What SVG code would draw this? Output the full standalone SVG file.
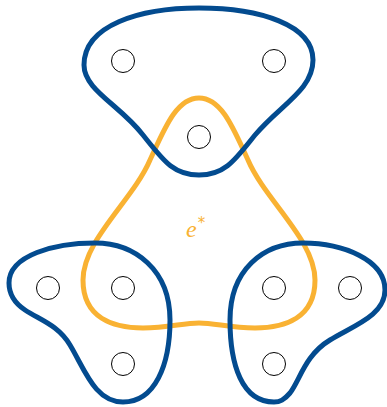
<svg xmlns="http://www.w3.org/2000/svg" width="387" height="407" viewBox="0 0 387 407">
<style>
.edge{fill:none;stroke:#034B8F;stroke-width:5;stroke-linejoin:round}
.star{fill:none;stroke:#F9B233;stroke-width:5;stroke-linejoin:round}
.v{fill:#fff;stroke:#000;stroke-width:1}
.lbl{font-family:"Liberation Serif","DejaVu Serif",serif;font-style:italic;font-size:24px;fill:#F9B233}
</style>
<rect width="387" height="407" fill="#fff"/>
<g id="edge-estar">
<path class="star" d="M 199 98 C 222 98 234 130 248 160 C 265 200 315 240 315 280 C 315 318 285 328 255 328 C 230 328 215 323 199 323 C 183 323 168 328 143 328 C 113 328 83 318 83 280 C 83 240 133 200 150 160 C 164 130 176 98 199 98 Z"/>
<text class="lbl" x="186" y="237">e<tspan font-family="DejaVu Sans, sans-serif" font-style="normal" font-size="15" dx="1" dy="-9">*</tspan></text>
</g>
<g id="edge-top">
<path class="edge" d="M 199 8 C 260 8 313 25 313 60 C 313 90 280 105 255 135 C 235 160 225 175 199 175 C 173 175 163 160 143 135 C 120 105 84 90 84 65 C 84 25 140 8 199 8 Z"/>
</g>
<g id="edge-left">
<path class="edge" d="M 95 243 C 135 243 170 270 170 320 C 170 365 155 402 123 402 C 95 402 85 370 70 345 C 58 325 40 320 25 310 C 13 302 9 293 9 283 C 9 255 55 243 95 243 Z"/>
</g>
<g id="edge-right">
<path class="edge" d="M 303 243 C 343 243 385 260 385 290 C 385 315 355 325 330 340 C 305 355 300 380 290 393 C 284 400 280 402 274 402 C 242 402 230 365 230 320 C 230 270 263 243 303 243 Z"/>
</g>
<g id="v1"><circle class="v" cx="123" cy="61" r="11.5"/></g>
<g id="v2"><circle class="v" cx="274" cy="61" r="11.5"/></g>
<g id="v3"><circle class="v" cx="199" cy="137" r="11.5"/></g>
<g id="v4"><circle class="v" cx="48" cy="288" r="11.5"/></g>
<g id="v5"><circle class="v" cx="123" cy="288" r="11.5"/></g>
<g id="v6"><circle class="v" cx="123" cy="364" r="11.5"/></g>
<g id="v7"><circle class="v" cx="274" cy="288" r="11.5"/></g>
<g id="v8"><circle class="v" cx="350" cy="288" r="11.5"/></g>
<g id="v9"><circle class="v" cx="274" cy="364" r="11.5"/></g>
</svg>
